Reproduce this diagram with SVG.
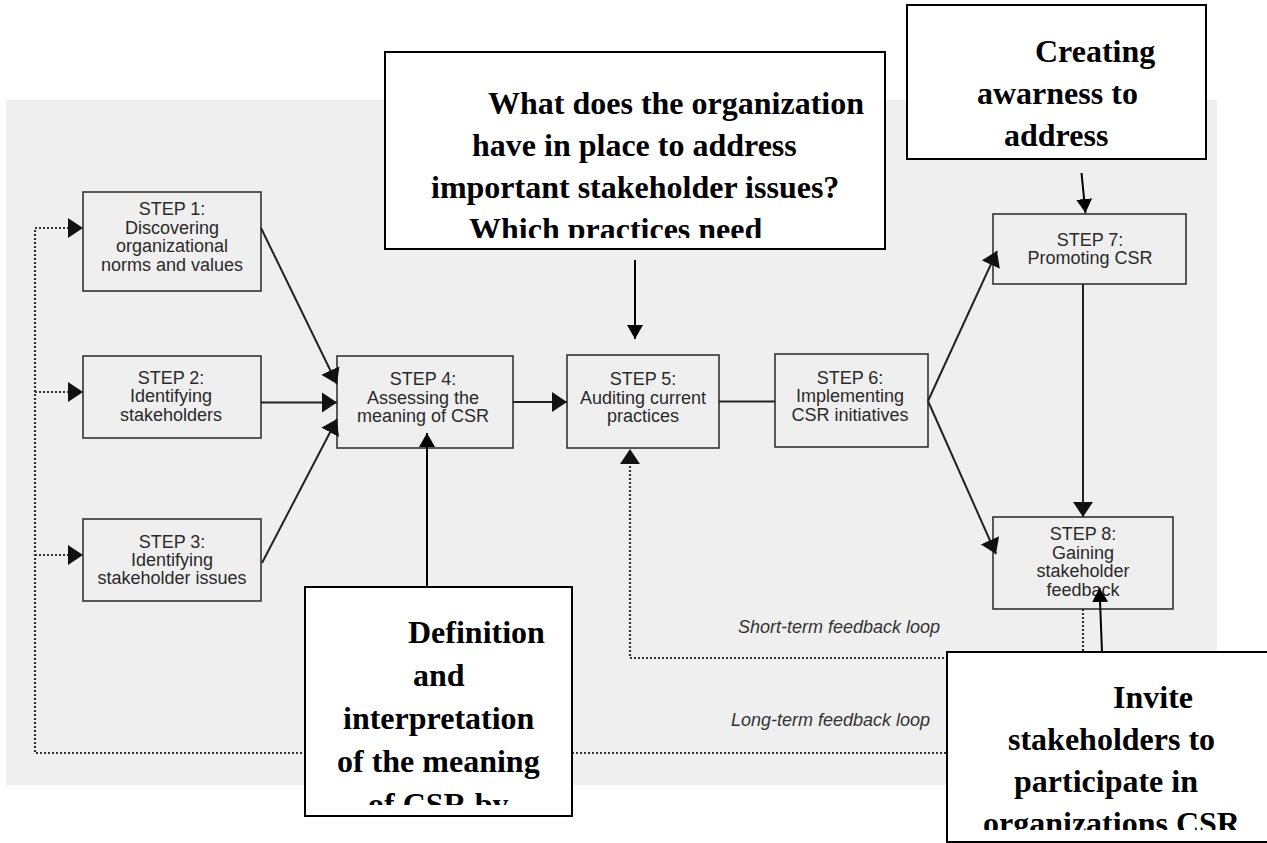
<svg xmlns="http://www.w3.org/2000/svg" width="1267" height="843" viewBox="0 0 1267 843">
<defs>
<style>
.bg{fill:#efefef}
.step rect{fill:#efefef;stroke:#333;stroke-width:1.6}
.step text{font-family:"Liberation Sans",Arial,sans-serif;font-size:18px;fill:#2a2a2a;text-anchor:middle}
.call rect{fill:#fff;stroke:#000;stroke-width:2}
.call text{font-family:"Liberation Serif","Times New Roman",serif;font-size:32px;font-weight:bold;fill:#000}
.solid{fill:none;stroke:#222;stroke-width:2}
.cl{fill:none;stroke:#000;stroke-width:2}
.dot{fill:none;stroke:#333;stroke-width:2.2;stroke-dasharray:2 2}
.lbl{font-family:"Liberation Sans",Arial,sans-serif;font-size:18px;font-style:italic;fill:#333}
</style>
<marker id="ah" viewBox="0 0 15 20" markerWidth="15" markerHeight="20" refX="15" refY="10" orient="auto" markerUnits="userSpaceOnUse"><path d="M0,0 L15,10 L0,20 z" fill="#111"/></marker>
<marker id="as" viewBox="0 0 14 16" markerWidth="14" markerHeight="16" refX="14" refY="8" orient="auto" markerUnits="userSpaceOnUse"><path d="M0,0 L14,8 L0,16 z" fill="#000"/></marker>
<clipPath id="c1"><rect x="385" y="52" width="500" height="186"/></clipPath>
<clipPath id="c3"><rect x="305" y="587" width="267" height="218"/></clipPath>
<clipPath id="c4"><rect x="947" y="652" width="320" height="178"/></clipPath>
</defs>
<rect class="bg" x="6" y="100" width="1211" height="685"/>

<g id="step1" class="step"><rect x="83" y="192" width="178" height="99"/>
<text x="172" y="215">STEP 1:</text><text x="172" y="233.5">Discovering</text><text x="172" y="252">organizational</text><text x="172" y="270.5">norms and values</text></g>
<g id="step2" class="step"><rect x="83" y="356" width="178" height="82"/>
<text x="171" y="383.5">STEP 2:</text><text x="171" y="402">Identifying</text><text x="171" y="420.5">stakeholders</text></g>
<g id="step3" class="step"><rect x="83" y="519" width="178" height="82"/>
<text x="172" y="548">STEP 3:</text><text x="172" y="566">Identifying</text><text x="172" y="584">stakeholder issues</text></g>
<g id="step4" class="step"><rect x="337" y="356" width="176" height="92"/>
<text x="423" y="385">STEP 4:</text><text x="423" y="403.5">Assessing the</text><text x="423" y="422">meaning of CSR</text></g>
<g id="step5" class="step"><rect x="567" y="355" width="152" height="93"/>
<text x="643" y="385">STEP 5:</text><text x="643" y="403.5">Auditing current</text><text x="643" y="422">practices</text></g>
<g id="step6" class="step"><rect x="775" y="354" width="153" height="93"/>
<text x="850" y="383.5">STEP 6:</text><text x="850" y="402">Implementing</text><text x="850" y="420.5">CSR initiatives</text></g>
<g id="step7" class="step"><rect x="993" y="214" width="193" height="70"/>
<text x="1090" y="246">STEP 7:</text><text x="1090" y="264">Promoting CSR</text></g>
<g id="step8" class="step"><rect x="993" y="517" width="180" height="92"/>
<text x="1083" y="540">STEP 8:</text><text x="1083" y="558.5">Gaining</text><text x="1083" y="577">stakeholder</text><text x="1083" y="595.5">feedback</text></g>

<g id="connectors">
<line class="solid" x1="261" y1="228" x2="337" y2="384" marker-end="url(#ah)"/>
<line class="solid" x1="261" y1="402.5" x2="337" y2="402.5" marker-end="url(#ah)"/>
<line class="solid" x1="262" y1="563" x2="337" y2="419" marker-end="url(#ah)"/>
<line class="solid" x1="513" y1="402" x2="567" y2="402" marker-end="url(#ah)"/>
<line class="solid" x1="719" y1="401.5" x2="775" y2="401.5"/>
<line class="solid" x1="928" y1="401" x2="997" y2="251" marker-end="url(#ah)"/>
<line class="solid" x1="928" y1="401" x2="996" y2="554" marker-end="url(#ah)"/>
<line class="solid" x1="1083" y1="284" x2="1083" y2="517" marker-end="url(#ah)"/>
<path class="dot" d="M1083,609 V658 H630 V464"/>
<path d="M630,449 L620,464 L640,464 z" fill="#111"/>
<path class="dot" d="M1083,658 V753 H35 V228"/>
<line class="dot" x1="35" y1="228" x2="68" y2="228"/><path d="M68,218 L83,228 L68,238 z" fill="#111"/>
<line class="dot" x1="35" y1="392" x2="68" y2="392"/><path d="M68,382 L83,392 L68,402 z" fill="#111"/>
<line class="dot" x1="35" y1="555" x2="68" y2="555"/><path d="M68,545 L83,555 L68,565 z" fill="#111"/>
<line class="cl" x1="635" y1="260" x2="635" y2="339" marker-end="url(#as)"/>
<line class="cl" x1="1081.5" y1="173" x2="1085.5" y2="213" marker-end="url(#as)"/>
<line class="cl" x1="427" y1="587" x2="427" y2="433" marker-end="url(#as)"/>
<line class="cl" x1="1102" y1="652" x2="1099.5" y2="588" marker-end="url(#as)"/>
<text class="lbl" x="738" y="633">Short-term feedback loop</text>
<text class="lbl" x="731" y="726">Long-term feedback loop</text>
</g>

<g id="callout-audit" class="call"><rect x="385" y="52" width="500" height="197"/>
<g clip-path="url(#c1)"><text x="488" y="114">What does the organization</text><text x="472" y="156">have in place to address</text><text x="431" y="198">important stakeholder issues?</text><text x="469" y="240">Which practices need</text></g></g>
<g id="callout-awareness" class="call"><rect x="907" y="5" width="299" height="154"/>
<text x="1035" y="62">Creating</text><text x="977" y="104">awarness to</text><text x="1004" y="146">address</text></g>
<g id="callout-definition" class="call"><rect x="305" y="587" width="267" height="229"/>
<g clip-path="url(#c3)"><text x="408" y="643">Definition</text><text x="413" y="686">and</text><text x="343" y="729">interpretation</text><text x="337" y="772">of the meaning</text><text x="368" y="815">of CSR by</text></g></g>
<g id="callout-invite" class="call"><rect x="947" y="652" width="330" height="190"/>
<g clip-path="url(#c4)"><text x="1113" y="708">Invite</text><text x="1008" y="750">stakeholders to</text><text x="1014" y="792">participate in</text><text x="983" y="834">organizations CSR</text></g></g>
</svg>
